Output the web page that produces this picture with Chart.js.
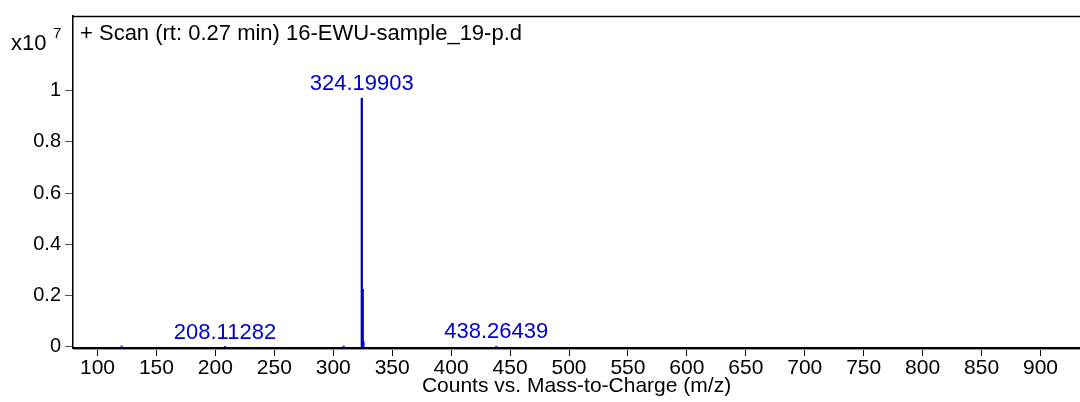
<!DOCTYPE html>
<html>
<head>
    <title>Mass spectrum</title>
    <script src="https://cdn.jsdelivr.net/npm/chart.js"></script>
    <style>
        html, body { margin: 0; padding: 0; background: #fff; }
        #wrap { width: 1080px; height: 402px; }
    </style>
</head>
<body>
    <div id="wrap"><canvas id="spectrum" width="1080" height="402"></canvas></div>

    <script>
        // peak list (m/z, counts in units of 1e7)
        const peakMz = [120.5, 208.11282, 308.8, 324.19903, 325.0, 325.6, 438.26439];
        const peakCounts = [0.004, 0.001, 0.004, 0.97, 0.225, 0.02, 0.003];

        // labelled peaks
        const labelMz = [324.19903, 208.11282, 438.26439];
        const labelText = ['324.19903', '208.11282', '438.26439'];

        const xTicks = [100, 150, 200, 250, 300, 350, 400, 450, 500, 550, 600, 650, 700, 750, 800, 850, 900];
        const yTicks = [0, 0.2, 0.4, 0.6, 0.8, 1];

        const titleText = '+ Scan (rt: 0.27 min) 16-EWU-sample_19-p.d';
        const xTitle = 'Counts vs. Mass-to-Charge (m/z)';

        const FONT = '"Liberation Sans", Arial, sans-serif';
        const BLUE = '#0000cc';

        // frame, title, exponent and peak labels
        const decor = {
            id: 'decor',
            afterDraw(chart) {
                const ctx = chart.ctx;
                const a = chart.chartArea;
                const xs = chart.scales.x;
                ctx.save();
                // top line of the box
                ctx.strokeStyle = '#000';
                ctx.lineWidth = 1.5;
                ctx.beginPath();
                ctx.moveTo(a.left, a.top + 0.5);
                ctx.lineTo(chart.width, a.top + 0.5);
                ctx.stroke();
                // grey shadow under the x axis
                ctx.strokeStyle = '#999';
                ctx.lineWidth = 1;
                ctx.beginPath();
                ctx.moveTo(a.left, a.bottom + 1.5);
                ctx.lineTo(chart.width, a.bottom + 1.5);
                ctx.stroke();

                ctx.fillStyle = '#000';
                ctx.textBaseline = 'middle';
                ctx.textAlign = 'left';
                ctx.font = '22px ' + FONT;
                ctx.fillText(titleText, a.left + 7, 34);

                ctx.font = '22px ' + FONT;
                ctx.fillText('x10', 11, 44);
                ctx.font = '15px ' + FONT;
                ctx.fillText('7', 53, 34);

                // peak labels
                ctx.fillStyle = BLUE;
                ctx.textAlign = 'center';
                ctx.textBaseline = 'bottom';
                ctx.font = '22px ' + FONT;
                const ys = chart.scales.y;
                labelMz.forEach((m, i) => {
                    const idx = peakMz.indexOf(m);
                    const px = xs.getPixelForValue(m);
                    const py = ys.getPixelForValue(peakCounts[idx]);
                    ctx.fillText(labelText[i], px, py - 3);
                });
                ctx.restore();
            }
        };

        new Chart(document.getElementById('spectrum').getContext('2d'), {
            type: 'bar',
            data: {
                datasets: [{
                    data: peakMz.map((m, i) => ({ x: m, y: peakCounts[i] })),
                    backgroundColor: BLUE,
                    barThickness: 1.6,
                    borderWidth: 0
                }]
            },
            options: {
                responsive: false,
                animation: false,
                layout: { padding: { top: 14, right: 0, left: 0, bottom: 0 } },
                plugins: { legend: { display: false }, tooltip: { enabled: false } },
                scales: {
                    x: {
                        type: 'linear',
                        offset: false,
                        min: 79.2,
                        max: 933.5,
                        afterFit: s => { s.height = 54; },
                        afterBuildTicks: s => { s.ticks = xTicks.map(v => ({ value: v })); },
                        border: { display: true, color: '#000', width: 2 },
                        grid: { display: true, offset: false, drawOnChartArea: false, drawTicks: true, tickLength: 8, color: '#000', tickWidth: 1 },
                        ticks: { color: '#000', font: { family: FONT, size: 21 }, padding: 0, maxRotation: 0, autoSkip: false },
                        title: { display: true, text: xTitle, color: '#000', font: { family: FONT, size: 21 }, padding: { top: 0, bottom: 3 } }
                    },
                    y: {
                        min: -0.004,
                        max: 1.29,
                        afterFit: s => { s.width = 73; },
                        afterBuildTicks: s => { s.ticks = yTicks.map(v => ({ value: v })); },
                        border: { display: true, color: '#000', width: 1.5 },
                        grid: { display: true, drawOnChartArea: false, drawTicks: true, tickLength: 8, color: '#555', tickWidth: 1 },
                        ticks: { color: '#000', font: { family: FONT, size: 20 }, padding: 4, callback: v => String(v) }
                    }
                }
            },
            plugins: [decor]
        });
    </script>
</body>
</html>
